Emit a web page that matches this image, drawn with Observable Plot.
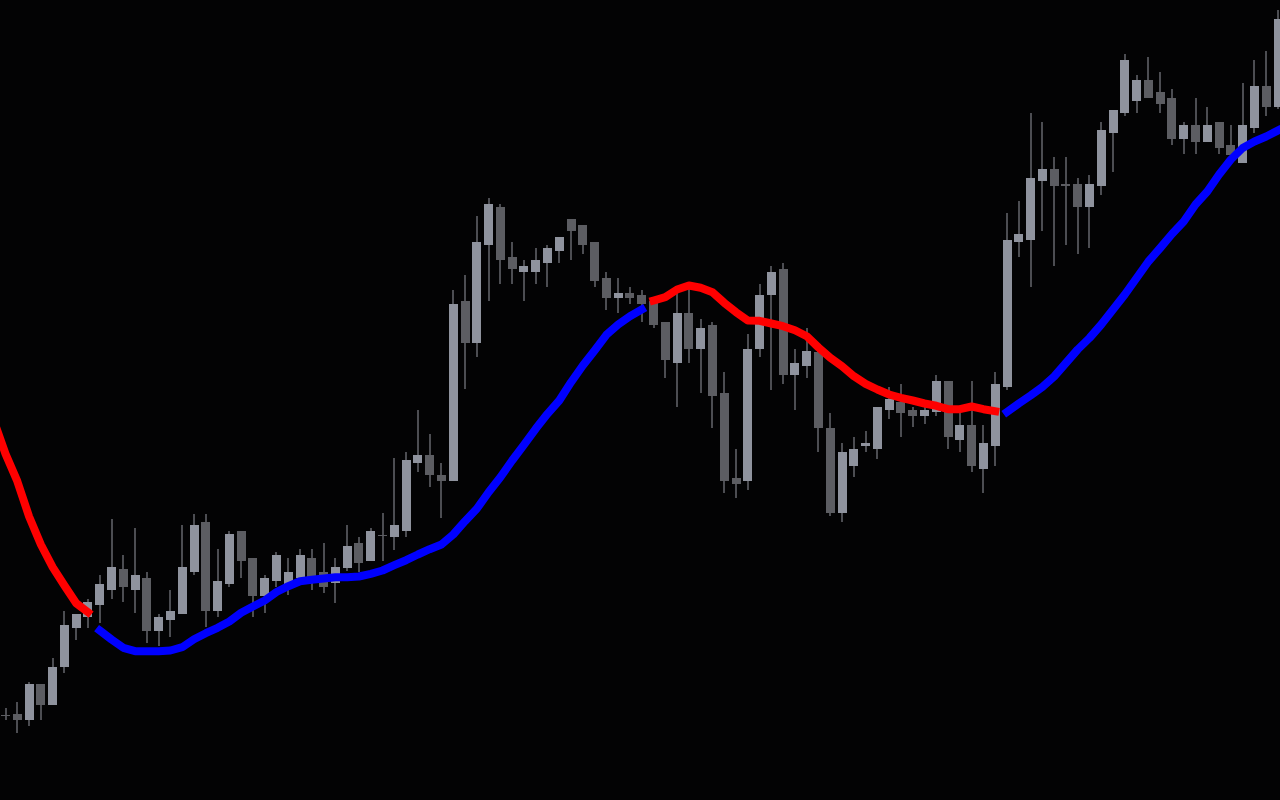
<!DOCTYPE html>
<html>
<head>
<meta charset="utf-8">
<script src="https://cdn.jsdelivr.net/npm/d3@7"></script>
<script src="https://cdn.jsdelivr.net/npm/@observablehq/plot@0.6"></script>
<style>
  html, body { margin: 0; padding: 0; background: #030304; overflow: hidden; }
  #chart svg { display: block; }
</style>
</head>
<body>
<div id="chart"></div>
<script>
// Bars 0..108 (price units)
const open = [85,85.7,80,116,95,133.3,172.3,183.3,195,210,231,210,222,169.3,180,186,228.3,278,189,216,
269,242,204,219,216,221.7,242,227.7,216.7,231.7,257,239,265.5,263.3,269.3,337.3,345,325,319.3,499,
457.3,555,593.3,542.7,528.3,528.3,537.3,549.3,580.7,575,558,522.3,502.3,506.7,505,499,478.3,437.3,487.3,451,
475,407.3,322.3,319,451,505,531,425,434,448.3,372.3,286.7,334.3,354,351.3,390,398.3,390,384.3,387.7,
419,360,375,331,354.3,413.3,558.3,560,619.3,631,616,616,593.3,614.3,667.3,687.3,699.3,720,707.7,702.3,
661,675,658.3,678.3,655,637.3,672.3,714,693.3];
const high = [92,98.3,118.3,116,141.7,189,186,201,225,281,245,272,228,186,210,275,286,286,251,269,
269,242,225,248,242,251,251,256.7,242,275,263.3,271.7,286.7,342.3,348.3,390,366,336.7,510,525,
584,601.7,596,558.3,540,551.7,555,562.7,580.7,575,558,528,522,512.7,510,500,478.3,506.7,510.7,481,
478.3,427.7,351,466,516,534,537.3,451,472.3,453,386.7,356.7,363.3,369,392.7,413.3,416,392.7,392.7,425,
419,386.7,419,375,428.3,587.3,599,687.3,678.3,643.3,643.3,621.7,625,678.3,690,746,725,743.3,728.3,711,
678.3,702.3,693.3,678.3,675,717.3,740,749,790];
const low = [80,66.7,74.3,80,95,127.3,160,172.3,177,201,198,187,157.3,154.3,163.3,186,225,173.3,183.3,213.3,
222.3,183.3,186.7,213.3,205,215,210,207.3,197,229,228,239,239,250,263.3,328.3,313.3,281.7,319.3,410.7,
443.3,499.3,516,516,499.3,516,513.3,537.3,540,546,513.3,490,487.3,495.7,478.3,472.3,422,393.3,437.3,407.3,
372.3,307.3,301.7,310,443.3,410,416,390,422.3,348.3,284,278.3,322.7,348.3,340.7,381,363.3,372.7,375.7,384.3,
351.3,348.3,328.3,307.3,334.3,410,543.3,513.3,569.3,534.3,555,546,552.3,605,628.3,684.3,687.3,702.3,687.3,655,
646,646,658.3,646,640,637.3,667.3,684.3,690.7];
const close = [84,80,116,95,133.3,175,186,198,216,233.3,213,225,169.3,183,189,233.3,275,189,219,266,
239,204,222.3,245,228.3,245,223.3,213.3,232.7,254,236.7,269,264,275,340,345,325,319.3,496,457.3,
558.3,596,540,531,534,540,551.7,562.7,569.3,555,519.3,502.3,506.7,502.3,496.5,475,440,487.3,451,472.3,
404,319,316,451,505,528.3,425,437.3,449.3,372.3,286.7,348.3,351,356.7,392.7,401,387.3,384.3,390,419,
363.3,375,334.3,357.3,416,560,566,621.7,631,614.3,614.3,593.3,616,670,690,740,720,702.3,696,661,
675,658.3,675,652.3,645,675,714,693.3,781];

// Smoothed average, bars -1..108
const maFirstBar = -1;
const maValues = [380,346.7,319.3,284,256,233.3,215,197.3,188.3,170,161,152.7,149.3,149.3,149.3,150,153.3,161.3,167.3,172.7,
179,187.7,194,200,208.5,214.3,219.3,220.7,222,223.3,223.3,224,226.7,230,235.3,240.3,246,251.3,256,266,
279.3,291.7,308.3,323.3,340,355.7,371.7,386.7,400,418.3,435,450,465.7,476,484.3,491,500,503.3,511,515,
512.7,508.3,497.7,488.3,480,479.7,477,474.3,470.3,464.3,453,442.7,434.3,424.3,416.7,411,406,402.7,400,397,
394.7,391.3,391.3,394,391.3,389.3,388.5,397,405,413.5,424,437.5,451,462.5,476,491,506,522.5,539,552.5,
566.5,579,596,609,626,641,652.5,659,664,670];
// Trend runs of the average: first bar of each run and its direction
const trendStart = [-1, 8, 55, 85];
const trendDir = ["down", "up", "down", "up"];

const candles = open.map((o, i) => ({bar: i, open: o, high: high[i], low: low[i], close: close[i]}));
const ma = maValues.map((v, i) => {
  const bar = maFirstBar + i;
  let run = 0;
  for (let k = 0; k < trendStart.length; k++) if (bar >= trendStart[k]) run = k;
  return {bar, ma: v, run, dir: trendDir[run]};
});

const chart = Plot.plot({
  width: 1280,
  height: 800,
  margin: 0,
  style: {background: "#030304"},
  x: {type: "linear", domain: [-0.4244, 108.212], axis: null},
  y: {domain: [0, 800], axis: null},
  marks: [
    Plot.ruleX(candles, {x: "bar", y1: "low", y2: "high", stroke: "#4c4d52", strokeWidth: 2, shapeRendering: "crispEdges"}),
    Plot.ruleX(candles, {x: "bar", y1: "open", y2: "close",
      stroke: d => d.close >= d.open ? "#8f939e" : "#5c5d62", strokeWidth: 9, shapeRendering: "crispEdges"}),
    Plot.line(ma, {x: "bar", y: "ma", z: "run",
      stroke: d => d.dir === "down" ? "#ff0000" : "#0000ff",
      strokeWidth: 8, strokeLinecap: "square", strokeLinejoin: "round"})
  ]
});
document.getElementById("chart").append(chart);
</script>
</body>
</html>
